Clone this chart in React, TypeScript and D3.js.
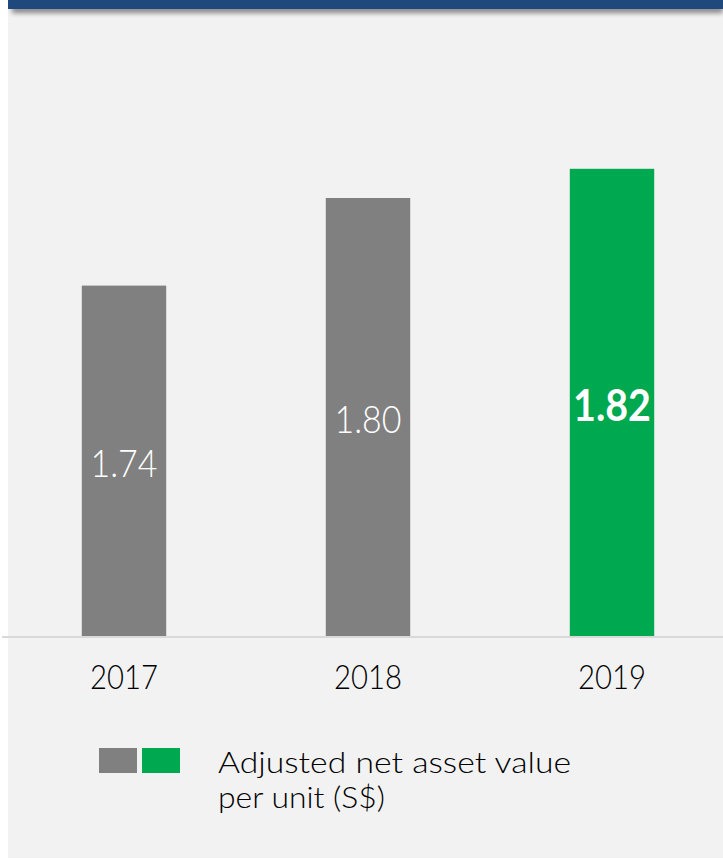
import React from "react";
import * as d3 from "d3";

const years = ["2017", "2018", "2019"];
const values = [1.74, 1.8, 1.82];
const labels = ["1.74", "1.80", "1.82"];
const highlight = [false, false, true];
const legendLines = ["Adjusted net asset value", "per unit (S$)"];

const W = 723;
const H = 859;
const GRAY = "#808080";
const GREEN = "#00a84f";
const BLUE = "#1f497d";
const PANEL = "#f2f2f2";
const FONT = "Lato, 'Open Sans', sans-serif";

export default function App() {
  const baseY = 636;
  const x = d3
    .scaleBand<string>()
    .domain(years)
    .range([2, 734])
    .paddingInner(0.654)
    .paddingOuter(0.327);
  const y = d3.scaleLinear().domain([1.5, 1.85]).range([baseY, baseY - 0.35 * 1460]);

  return (
    <svg
      width={W}
      height={H}
      style={{ position: "absolute", left: 0, top: 0, display: "block" }}
    >
      <defs>
        <filter id="sh" x="-5%" y="-100%" width="110%" height="400%">
          <feGaussianBlur stdDeviation="2.5" />
        </filter>
      </defs>
      <rect x={0} y={0} width={W} height={H} fill="#ffffff" />
      <rect x={8} y={0} width={W - 8} height={858} fill={PANEL} />
      <rect x={12} y={6} width={W - 12} height={7} fill="#000" opacity={0.45} filter="url(#sh)" />
      <rect x={8} y={0} width={W - 8} height={9} fill={BLUE} />

      {years.map((yr, i) => {
        const bx = x(yr)!;
        const top = y(values[i]);
        return (
          <rect
            key={yr}
            x={bx}
            y={top}
            width={x.bandwidth()}
            height={baseY - top}
            fill={highlight[i] ? GREEN : GRAY}
          />
        );
      })}
      <rect x={2} y={baseY} width={W - 2} height={2} fill="#d9d9d9" />

      {years.map((yr, i) => {
        const cx = x(yr)! + x.bandwidth() / 2;
        const mid = (y(values[i]) + baseY) / 2;
        const hl = highlight[i];
        return (
          <text
            key={"v" + yr}
            x={cx}
            y={mid}
            dy={hl ? 19 : 16}
            textAnchor="middle"
            fill="#ffffff"
            fontFamily={FONT}
            fontWeight={hl ? 700 : 300}
            fontSize={hl ? 44 : 38}
            textLength={hl ? 78 : 67}
            lengthAdjust="spacingAndGlyphs"
          >
            {labels[i]}
          </text>
        );
      })}

      {years.map((yr) => (
        <text
          key={"t" + yr}
          x={x(yr)! + x.bandwidth() / 2}
          y={688.5}
          textAnchor="middle"
          fill="#000"
          fontFamily={FONT}
          fontWeight={300}
          fontSize={33}
          textLength={68}
          lengthAdjust="spacingAndGlyphs"
        >
          {yr}
        </text>
      ))}

      <rect x={99} y={748} width={38} height={25} fill={GRAY} />
      <rect x={142} y={748} width={38} height={25} fill={GREEN} />
      <text
        x={218}
        y={772.5}
        fill="#000"
        fontFamily={FONT}
        fontWeight={300}
        fontSize={29}
        textLength={353}
        lengthAdjust="spacingAndGlyphs"
      >
        {legendLines[0]}
      </text>
      <text
        x={218}
        y={807.5}
        fill="#000"
        fontFamily={FONT}
        fontWeight={300}
        fontSize={29}
        textLength={167}
        lengthAdjust="spacingAndGlyphs"
      >
        {legendLines[1]}
      </text>
    </svg>
  );
}
